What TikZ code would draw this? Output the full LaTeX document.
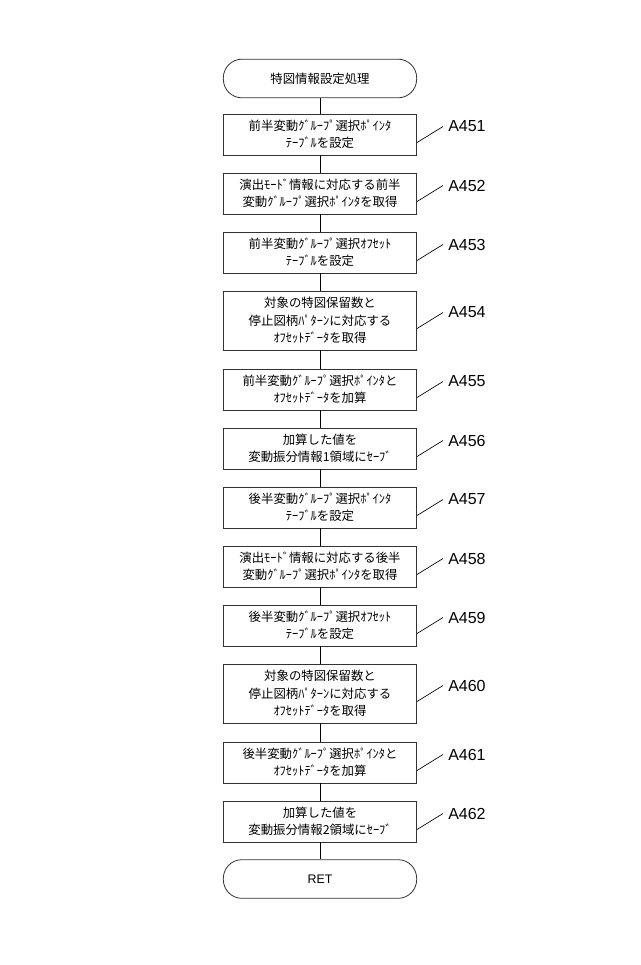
\documentclass[tikz,border=0pt]{standalone}
\usepackage{fontspec}
\setmainfont{Liberation Sans}
\newfontfamily\jpfont{Noto Sans CJK JP}
\begin{document}
\begin{tikzpicture}[x=0.75pt,y=-0.75pt]
  \tikzset{procbox/.style={draw=black!80,line width=0.6pt,minimum width=145pt,align=center,font=\jpfont\fontsize{9.3}{13}\selectfont,inner sep=0pt},
    termbox/.style={draw=black!80,line width=0.6pt,rounded corners=14pt,minimum width=145pt,minimum height=29pt,font=\jpfont\fontsize{9.3}{13}\selectfont},
    steplabel/.style={anchor=west,font=\fontsize{12}{14}\selectfont,inner sep=0pt}}
  \useasboundingbox (0,0) rectangle (640,965);
  \node[termbox] (start) at (320,78.5) {特図情報設定処理};

  % process steps: name / top / height / text
  \foreach \n/\t/\h/\txt in {
    451/114/41/{前半変動ｸﾞﾙｰﾌﾟ選択ﾎﾟｲﾝﾀ\\ﾃｰﾌﾞﾙを設定},
    452/173/41/{演出ﾓｰﾄﾞ情報に対応する前半\\変動ｸﾞﾙｰﾌﾟ選択ﾎﾟｲﾝﾀを取得},
    453/232/41/{前半変動ｸﾞﾙｰﾌﾟ選択ｵﾌｾｯﾄ\\ﾃｰﾌﾞﾙを設定},
    454/291/59/{対象の特図保留数と\\停止図柄ﾊﾟﾀｰﾝに対応する\\ｵﾌｾｯﾄﾃﾞｰﾀを取得},
    455/369/41/{前半変動ｸﾞﾙｰﾌﾟ選択ﾎﾟｲﾝﾀと\\ｵﾌｾｯﾄﾃﾞｰﾀを加算},
    456/428/41/{加算した値を\\変動振分情報1領域にｾｰﾌﾞ},
    457/487/41/{後半変動ｸﾞﾙｰﾌﾟ選択ﾎﾟｲﾝﾀ\\ﾃｰﾌﾞﾙを設定},
    458/546/41/{演出ﾓｰﾄﾞ情報に対応する後半\\変動ｸﾞﾙｰﾌﾟ選択ﾎﾟｲﾝﾀを取得},
    459/605/41/{後半変動ｸﾞﾙｰﾌﾟ選択ｵﾌｾｯﾄ\\ﾃｰﾌﾞﾙを設定},
    460/664/59/{対象の特図保留数と\\停止図柄ﾊﾟﾀｰﾝに対応する\\ｵﾌｾｯﾄﾃﾞｰﾀを取得},
    461/742/41/{後半変動ｸﾞﾙｰﾌﾟ選択ﾎﾟｲﾝﾀと\\ｵﾌｾｯﾄﾃﾞｰﾀを加算},
    462/801/41/{加算した値を\\変動振分情報2領域にｾｰﾌﾞ}} {
    \node[procbox,minimum height=\h*0.75pt] (s\n) at (320,\t+\h/2) {\txt};
    \coordinate (c\n) at (443,\t+\h/2-8);
    \node[steplabel] (l\n) at (448,\t+\h/2-8) {A\n};
    \draw[line width=0.5pt] ([yshift=-6pt]s\n.east) -- (c\n);
  }

  \node[termbox] (ret) at (320,879) {\fontspec{Liberation Sans}RET};

  % connectors
  \draw[line width=0.5pt] (start) -- (s451);
  \foreach \a/\b in {451/452,452/453,453/454,454/455,455/456,456/457,457/458,458/459,459/460,460/461,461/462}
    \draw[line width=0.5pt] (s\a) -- (s\b);
  \draw[line width=0.5pt] (s462) -- (ret);
\end{tikzpicture}
\end{document}
